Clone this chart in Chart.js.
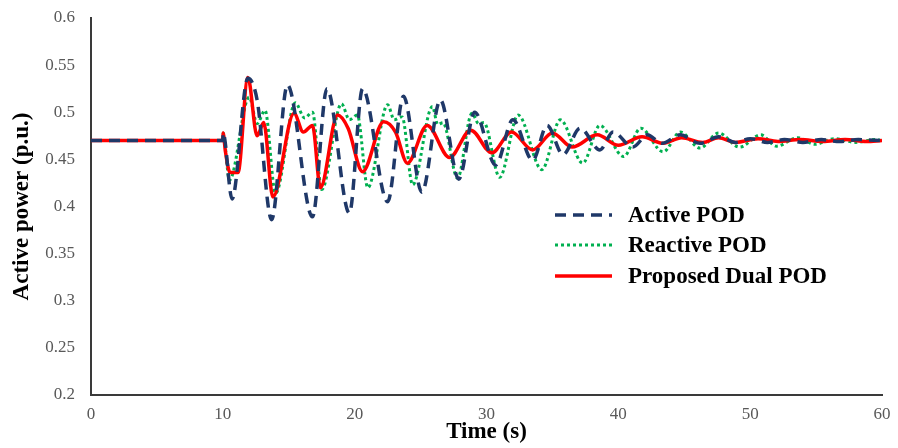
<!DOCTYPE html>
<html>
<head>
<meta charset="utf-8">
<script src="https://cdn.jsdelivr.net/npm/chart.js@4"></script>
<style>
  html, body { margin: 0; padding: 0; background: #fff; }
  #powerChart { display: block; }
</style>
</head>
<body>
<canvas id="powerChart" width="898" height="448"></canvas>
<script>

// time (s) and active power (p.u.) at the turning points of each response
var activeT = [0, 10, 10.02, 10.7, 11.9, 12.6, 13.7, 14.9, 16.8, 17.9, 19.6, 20.6, 22.5, 23.7, 25.1, 26.5, 27.9, 29.1, 30.7, 32.0, 33.5, 34.6, 35.8, 37.1, 38.6, 39.6, 41.1, 42.2, 43.3, 44.7, 46.2, 47.6, 48.9, 50.0, 51.3, 52.6, 54.0, 55.4, 56.8, 58.2, 60];
var activeP = [0.47, 0.47, 0.478, 0.408, 0.536, 0.513, 0.386, 0.529, 0.389, 0.525, 0.393, 0.525, 0.405, 0.517, 0.415, 0.513, 0.429, 0.5, 0.444, 0.492, 0.449, 0.486, 0.455, 0.483, 0.46, 0.479, 0.463, 0.476, 0.467, 0.476, 0.467, 0.474, 0.468, 0.472, 0.468, 0.471, 0.468, 0.471, 0.469, 0.471, 0.47];

var reactiveT = [0, 10, 10.02, 10.5, 12.0, 12.6, 13.2, 14.0, 15.5, 16.2, 16.8, 17.5, 19.0, 19.6, 20.2, 21.0, 22.5, 23.0, 23.6, 24.4, 25.9, 26.3, 26.7, 27.8, 28.9, 29.4, 29.8, 31.0, 32.4, 34.2, 35.6, 37.3, 38.6, 40.4, 41.7, 43.4, 44.7, 46.2, 47.6, 49.2, 50.8, 52.0, 53.6, 54.9, 56.4, 58.0, 59.5, 60];
var reactiveP = [0.47, 0.47, 0.478, 0.428, 0.516, 0.488, 0.502, 0.414, 0.51, 0.494, 0.5, 0.418, 0.509, 0.492, 0.497, 0.42, 0.508, 0.492, 0.495, 0.423, 0.506, 0.487, 0.489, 0.43, 0.499, 0.488, 0.489, 0.431, 0.497, 0.439, 0.492, 0.446, 0.486, 0.453, 0.483, 0.458, 0.479, 0.462, 0.478, 0.463, 0.476, 0.464, 0.473, 0.466, 0.472, 0.468, 0.471, 0.47];

var dualT = [0, 10, 10.02, 10.2, 10.55, 11.15, 11.9, 12.6, 13.1, 13.8, 15.4, 16.1, 16.8, 17.4, 18.7, 19.5, 20.6, 22.2, 23.1, 24.0, 25.5, 27.2, 28.8, 30.4, 31.9, 33.5, 35.0, 36.5, 38.4, 40.0, 41.8, 43.4, 44.8, 46.4, 47.6, 48.9, 50.6, 52.1, 53.8, 55.5, 57.2, 58.8, 60];
var dualP = [0.47, 0.47, 0.478, 0.458, 0.436, 0.436, 0.537, 0.475, 0.489, 0.41, 0.499, 0.479, 0.486, 0.42, 0.497, 0.483, 0.437, 0.49, 0.479, 0.446, 0.486, 0.452, 0.481, 0.457, 0.479, 0.46, 0.478, 0.463, 0.476, 0.465, 0.474, 0.467, 0.473, 0.468, 0.473, 0.468, 0.472, 0.469, 0.471, 0.469, 0.471, 0.469, 0.47];

var seriesNames = ['Active POD', 'Reactive POD', 'Proposed Dual POD'];

function toPoints(ts, ps) {
  return ts.map(function(t, i) { return { x: t, y: ps[i] }; });
}

var serif = "'Liberation Serif', 'Times New Roman', serif";

// legend drawn inside the plot, right of centre
var innerLegend = {
  id: 'innerLegend',
  afterDraw: function(chart) {
    var ctx = chart.ctx;
    var rows = [215, 245, 276];
    ctx.save();
    chart.data.datasets.forEach(function(ds, i) {
      var y = rows[i];
      ctx.beginPath();
      ctx.strokeStyle = ds.borderColor;
      ctx.lineWidth = ds.borderWidth;
      ctx.setLineDash(ds.borderDash || []);
      ctx.moveTo(555, y);
      ctx.lineTo(612, y);
      ctx.stroke();
      ctx.setLineDash([]);
      ctx.fillStyle = '#000';
      ctx.font = 'bold 23px ' + serif;
      ctx.textBaseline = 'middle';
      ctx.textAlign = 'left';
      ctx.fillText(ds.label, 628, y + 1);
    });
    ctx.restore();
  }
};

new Chart(document.getElementById('powerChart').getContext('2d'), {
  type: 'line',
  data: {
    datasets: [
      {
        label: seriesNames[0],
        data: toPoints(activeT, activeP),
        borderColor: '#1F3868',
        borderWidth: 3.5,
        borderDash: [11, 7],
        order: 0
      },
      {
        label: seriesNames[1],
        data: toPoints(reactiveT, reactiveP),
        borderColor: '#00B050',
        borderWidth: 3,
        borderDash: [3, 3],
        order: 2
      },
      {
        label: seriesNames[2],
        data: toPoints(dualT, dualP),
        borderColor: '#FF0000',
        borderWidth: 3.5,
        order: 1
      }
    ]
  },
  options: {
    responsive: false,
    animation: false,
    events: [],
    layout: { padding: { left: 0, top: 18, right: 16, bottom: 0 } },
    elements: {
      point: { radius: 0 },
      line: { cubicInterpolationMode: 'monotone', fill: false }
    },
    plugins: {
      legend: { display: false },
      tooltip: { enabled: false }
    },
    scales: {
      x: {
        type: 'linear',
        min: 0,
        max: 60,
        grid: { display: false, drawTicks: false },
        border: { display: true, color: '#3a3a3a', width: 2 },
        ticks: {
          stepSize: 10,
          padding: 9,
          color: '#595959',
          font: { family: serif, size: 17 }
        },
        title: {
          display: true,
          text: 'Time (s)',
          color: '#000',
          padding: { top: 0, bottom: 2 },
          font: { family: serif, size: 23, weight: 'bold' }
        },
        afterFit: function(scale) {
          scale.height = 53;
          scale.paddingLeft = 0;
          scale.paddingRight = 0;
        }
      },
      y: {
        min: 0.2,
        max: 0.6,
        grid: { display: false, drawTicks: false },
        border: { display: true, color: '#3a3a3a', width: 2 },
        ticks: {
          stepSize: 0.05,
          padding: 16,
          color: '#595959',
          font: { family: serif, size: 17 },
          callback: function(v) { return String(Number(v.toFixed(2))); }
        },
        title: {
          display: true,
          text: 'Active power (p.u.)',
          color: '#000',
          padding: { top: 8, bottom: 0 },
          font: { family: serif, size: 23, weight: 'bold' }
        },
        afterFit: function(scale) {
          scale.width = 91;
          scale.paddingTop = 0;
          scale.paddingBottom = 0;
        }
      }
    }
  },
  plugins: [innerLegend]
});
</script>
</body>
</html>
